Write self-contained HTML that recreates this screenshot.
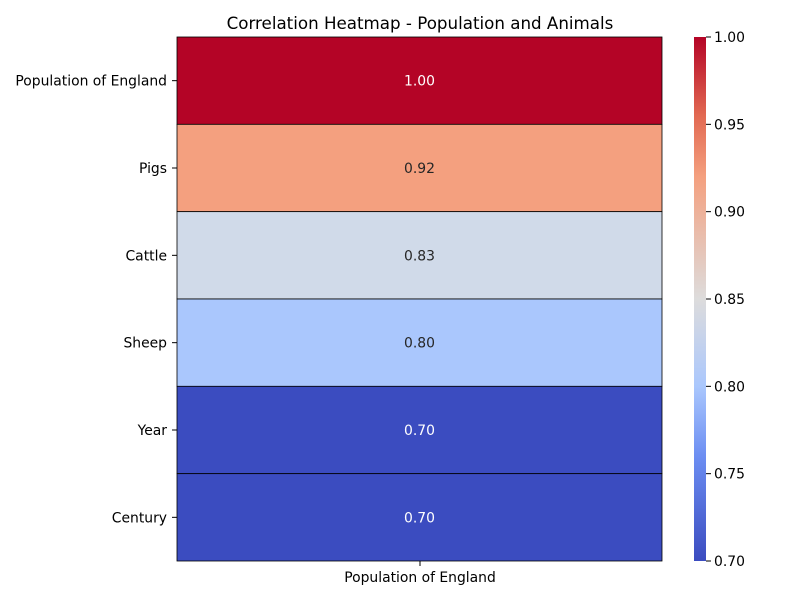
<!DOCTYPE html>
<html><head><meta charset="utf-8"><style>
body{margin:0;background:#fff;font-family:"Liberation Sans","DejaVu Sans",sans-serif;}
svg text{font-family:"DejaVu Sans","Liberation Sans",sans-serif;}
</style></head><body>
<svg id="chart" width="800" height="600" xmlns="http://www.w3.org/2000/svg">
<defs><linearGradient id="cbar" x1="0" y1="1" x2="0" y2="0">
<stop offset="0" stop-color="rgb(59,76,192)"/><stop offset="0.2" stop-color="rgb(108,142,242)"/><stop offset="0.333" stop-color="rgb(170,199,253)"/><stop offset="0.5" stop-color="rgb(221,220,220)"/><stop offset="0.733" stop-color="rgb(244,160,127)"/><stop offset="0.85" stop-color="rgb(226,105,82)"/><stop offset="1" stop-color="rgb(180,4,38)"/></linearGradient></defs>
<text x="420" y="29" font-size="16.7" text-anchor="middle">Correlation Heatmap - Population and Animals</text>
<g id="cells"></g>
<rect x="694" y="37" width="12" height="524" fill="url(#cbar)"/>
<g id="cbticks"></g>
<line x1="420" y1="561" x2="420" y2="566" stroke="#000"/>
<text x="420" y="582" font-size="13.9" text-anchor="middle">Population of England</text>
</svg>
<script>
const rows=["Population of England","Pigs","Cattle","Sheep","Year","Century"];
const values=[1.00,0.92,0.83,0.80,0.70,0.70];
const cbTicks=[0.70,0.75,0.80,0.85,0.90,0.95,1.00];
const vmin=0.70,vmax=1.00,x0=177,x1=662,y0=37,y1=561;
const stops=[[0,[59,76,192]],[0.2,[108,142,242]],[0.333,[170,199,253]],[0.433,[208,218,233]],[0.5,[221,220,220]],[0.6,[242,200,180]],[0.733,[244,160,127]],[0.85,[226,105,82]],[1,[180,4,38]]];
function cmap(v){let t=Math.max(0,Math.min(1,(v-vmin)/(vmax-vmin)));for(let i=1;i<stops.length;i++){if(t<=stops[i][0]){const a=stops[i-1],b=stops[i],f=(t-a[0])/(b[0]-a[0]);return 'rgb('+a[1].map((c,k)=>Math.round(c+(b[1][k]-c)*f)).join(',')+')';}}return 'rgb(180,4,38)';}
const ns="http://www.w3.org/2000/svg",g=document.getElementById('cells'),cb=document.getElementById('cbticks');
const h=(y1-y0)/rows.length;
function mk(tag,attrs,p){const e=document.createElementNS(ns,tag);for(const k in attrs)e.setAttribute(k,attrs[k]);p.appendChild(e);return e;}
rows.forEach((r,i)=>{
 const y=y0+i*h;
 const rc=mk('rect',{x:x0,y:y,width:x1-x0,height:h,fill:cmap(values[i]),stroke:'#000','stroke-width':0.8},g);
 
 
 const t=mk('text',{x:(x0+x1)/2,y:y+h/2+5,'font-size':13.9,'text-anchor':'middle',fill:(values[i]>0.97||values[i]<0.74)?'#fff':'#262626'},g);
 t.textContent=values[i].toFixed(2);
 
 
 const tk=mk('line',{x1:x0-5,x2:x0,y1:y+h/2,y2:y+h/2,stroke:'#000'},g);
 
 
 const l=mk('text',{x:x0-10,y:y+h/2+5,'font-size':13.9,'text-anchor':'end'},g);
 l.textContent=r;
 
 
});
cbTicks.forEach(v=>{
 const y=y1-(v-vmin)/(vmax-vmin)*(y1-y0);
 const tk=mk('line',{x1:706,x2:711,y1:y,y2:y,stroke:'#000'},cb);
 
 
 const t=mk('text',{x:714,y:y+5,'font-size':13.9},cb);
 t.textContent=v.toFixed(2);
 
 
});
</script>
</body></html>
